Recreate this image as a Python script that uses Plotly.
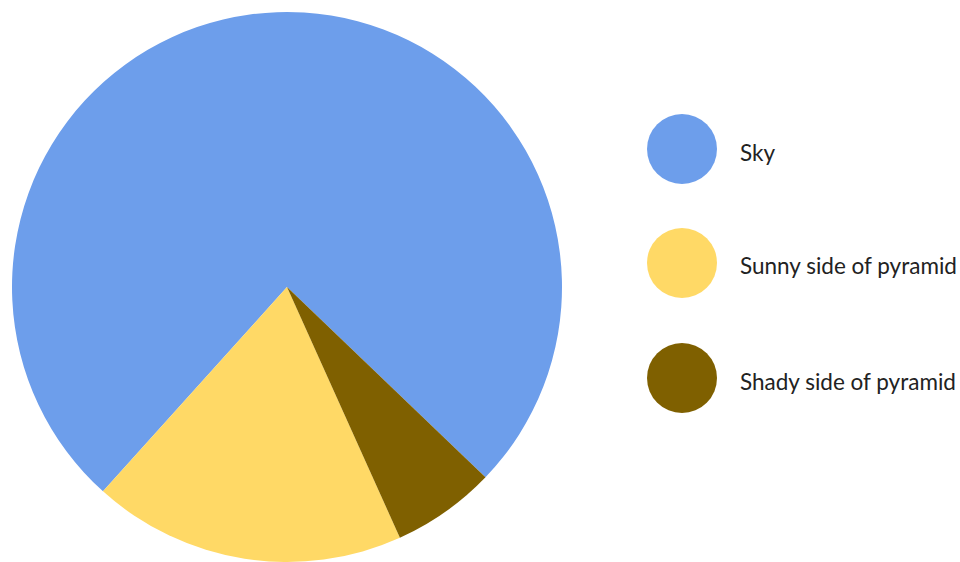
import plotly.graph_objects as go

labels = ["Sky", "Sunny side of pyramid", "Shady side of pyramid"]
values = [75.5, 18.4, 6.1]
colors = ["#6d9eeb", "#ffd966", "#7f6000"]

W, H = 960, 562

fig = go.Figure()
fig.add_trace(go.Pie(
    labels=labels, values=values, sort=False,
    direction="counterclockwise", rotation=222,
    marker=dict(colors=colors, line=dict(width=0)),
    textinfo="none", hoverinfo="label+percent",
    domain=dict(x=[12 / W, 562 / W], y=[0, 1 - 12 / H]),
    showlegend=False,
))

legend_y = [149, 263, 378]
shapes = []
annotations = []
for lab, col, cy in zip(labels, colors, legend_y):
    shapes.append(dict(type="circle", xref="paper", yref="paper",
                       x0=647 / W, x1=717 / W,
                       y0=1 - (cy + 35) / H, y1=1 - (cy - 35) / H,
                       fillcolor=col, line=dict(width=0)))
    annotations.append(dict(text=lab, xref="paper", yref="paper",
                            x=738 / W, y=1 - (cy + 3) / H,
                            xanchor="left", yanchor="middle", showarrow=False,
                            font=dict(family="Lato", size=22.5, color="#222222")))

fig.update_layout(
    width=W, height=H, margin=dict(l=0, r=0, t=0, b=0),
    paper_bgcolor="white", plot_bgcolor="white",
    shapes=shapes, annotations=annotations,
)
fig.write_html("out.html")
